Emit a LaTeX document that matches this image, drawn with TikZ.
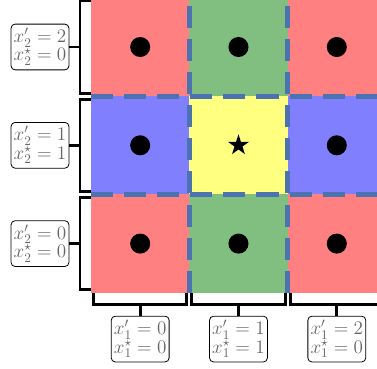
\documentclass[tikz,border=0pt]{standalone}
\usetikzlibrary{shapes.geometric}

\definecolor{cellred}{RGB}{255,128,128}
\definecolor{cellgreen}{RGB}{128,191,128}
\definecolor{cellblue}{RGB}{128,128,255}
\definecolor{cellyellow}{RGB}{255,255,128}
\definecolor{cutblue}{RGB}{76,114,176}
\newcommand\labfont{\fontsize{14.2}{13.8}\selectfont\lineskiplimit=-4pt\relax}

\begin{document}
\begin{tikzpicture}[x=2.6cm,y=2.6cm,
  lab/.style={draw,line width=0.6pt,rounded corners=3pt,text=black!60,
    align=center,inner sep=1pt,minimum width=1.53cm,minimum height=1.21cm,
    font=\labfont},
  brk/.style={line width=2.2pt},
  cut/.style={cutblue,line width=3.8pt,dash pattern=on 16.6pt off 8.3pt}]
\useasboundingbox (-0.926,-0.766) rectangle (2.909,2.978);
\clip (-0.926,-0.766) rectangle (2.909,2.978);

% Nine cells, column c and row r counted from the lower left corner.
\foreach \c/\r/\col in {0/0/cellred,1/0/cellgreen,2/0/cellred,
  0/1/cellblue,1/1/cellyellow,2/1/cellblue,
  0/2/cellred,1/2/cellgreen,2/2/cellred}
  \fill[\col] (\c,\r) rectangle ++(1,1);

% Dashed cuts along the middle row and column.
\foreach \k in {1,2} {
  \draw[cut] (\k,0) -- (\k,3);
  \draw[cut] (0,\k) -- (3,\k);
}

\foreach \c/\r in {0/0,1/0,2/0,0/1,2/1,0/2,1/2,2/2}
  \fill (\c+0.5,\r+0.5) circle (0.102);
\node[star,star points=5,star point ratio=2.618,fill=black,inner sep=0pt,
  minimum size=0.58cm] (opt) at (1.5,1.5) {};

% Row brackets and their labels on the left.
\foreach \r/\p/\s in {0/0/0,1/1/1,2/2/0} {
  \node[lab] (row\r) at (-0.519,\r+0.5) {$x'_2=\p$\\$x^\star_2=\s$};
  \draw[brk] (0,\r+0.03) -- (-0.112,\r+0.03) -- (-0.112,\r+0.97) -- (0,\r+0.97);
  \draw[brk] (-0.112,\r+0.5) -- (row\r.east);
}

% Column brackets and their labels below.
\foreach \c/\p/\s in {0/0/0,1/1/1,2/2/0} {
  \node[lab] (col\c) at (\c+0.5,-0.471) {$x'_1=\p$\\$x^\star_1=\s$};
  \draw[brk] (\c+0.025,0) -- (\c+0.025,-0.115) -- (\c+0.975,-0.115) -- (\c+0.975,0);
  \draw[brk] (\c+0.5,-0.115) -- (col\c.north);
}
\end{tikzpicture}
\end{document}
